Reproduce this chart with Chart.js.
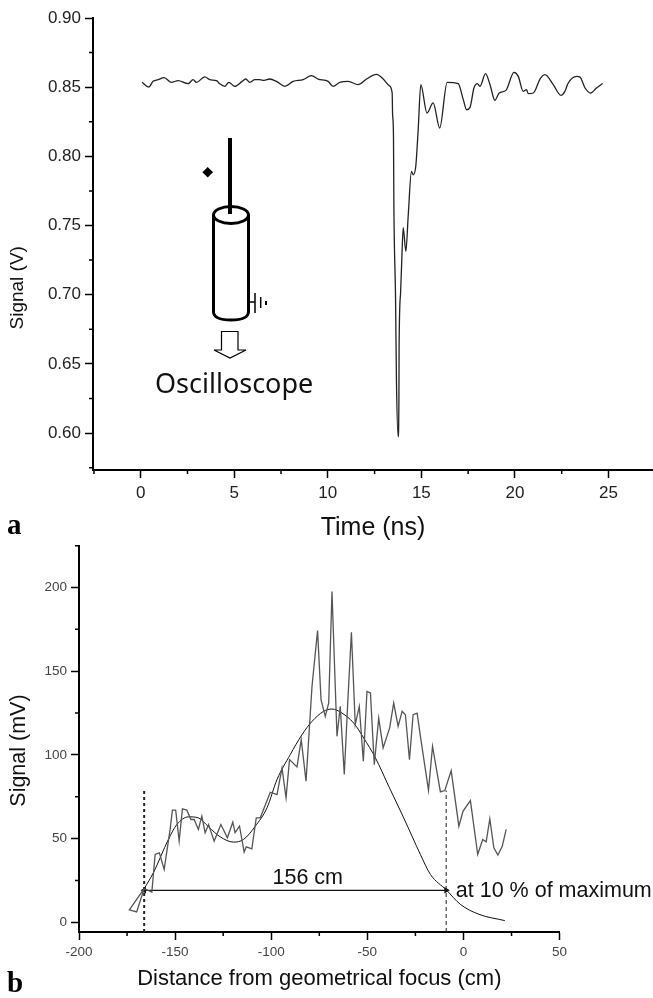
<!DOCTYPE html>
<html>
<head>
<meta charset="utf-8">
<style>
  html, body { margin: 0; padding: 0; background: #fff; }
  #page { position: relative; width: 653px; height: 998px; overflow: hidden; }
  canvas { position: absolute; left: 0; }
  #chartA { top: 0; }
  #chartB { top: 540px; }
  .panel { position: absolute; left: 7px; font: bold 29px "Liberation Serif", serif; color: #000; }
  #probe { position: absolute; left: 0; top: 0; }
  #scope { position: absolute; left: 155px; top: 364px; font: 27px "Noto Sans", sans-serif; color: #111; }
</style>
<script src="https://cdn.jsdelivr.net/npm/chart.js@4"></script>
</head>
<body>
<div id="page">
  <canvas id="chartA" width="653" height="540"></canvas>
  <canvas id="chartB" width="653" height="458"></canvas>
  <svg id="probe" width="653" height="400" fill="none" stroke="#000">
    <path d="M207.7 167 L213 172.3 L207.7 177.6 L202.4 172.3 Z" fill="#000" stroke="none"/>
    <line x1="230" y1="138" x2="230" y2="214" stroke-width="4"/>
    <ellipse cx="231" cy="215" rx="17.5" ry="8.5" stroke-width="3"/>
    <path d="M213.5 215 V312 Q214 320 231 320 Q248 320 248.5 312 V215" stroke-width="3"/>
    <path d="M248 302 H255 M255 293 V313 M260.7 297 V308" stroke-width="1.5"/>
    <path d="M266 301 V305" stroke-width="2"/>
    <path d="M221.5 331.5 H238 V350 H246 L230 358 L214 350 H221.5 Z" stroke-width="1.2"/>
  </svg>
  <div id="scope">Oscilloscope</div>
  <div class="panel" style="top:508px">a</div>
  <div class="panel" style="top:966px">b</div>
</div>
<script>
// panel a: detector signal
const timeNs = [0.07,0.43,0.66,0.93,1.25,1.64,2.0,2.53,2.8,2.98,3.42,3.69,4.05,4.22,4.49,4.71,5.03,5.42,5.61,5.83,6.1,6.36,6.59,6.9,7.25,7.7,8.15,8.68,9.13,9.48,10.02,10.28,10.64,11.09,11.62,12.07,12.6,12.96,13.28,13.44,13.46,13.51,13.53,13.62,13.67,13.76,13.8,13.81,13.89,13.96,14.03,14.17,14.3,14.47,14.56,14.7,14.83,14.97,15.3,15.63,15.98,16.38,16.97,17.24,17.42,17.6,17.81,17.99,18.13,18.43,18.67,18.93,19.16,19.52,19.95,20.18,20.44,20.62,20.71,20.98,21.37,21.6,22.05,22.46,22.67,22.85,23.3,23.48,23.75,24.05,24.36,24.69];
const signalV = [0.8535,0.8501,0.8542,0.8554,0.8569,0.8535,0.8547,0.8525,0.8554,0.8535,0.8574,0.8554,0.8547,0.8525,0.8506,0.8535,0.8506,0.8542,0.8559,0.8535,0.8554,0.8554,0.8549,0.8559,0.8542,0.8506,0.8542,0.8554,0.8583,0.8559,0.8542,0.8506,0.8535,0.8542,0.8518,0.8559,0.8593,0.8559,0.8511,0.8458,0.8313,0.8144,0.7663,0.6977,0.6363,0.5973,0.6241,0.6626,0.7014,0.7277,0.7484,0.7313,0.7578,0.7891,0.7867,0.7927,0.8193,0.8518,0.8313,0.8386,0.8205,0.8535,0.8526,0.841,0.8337,0.8354,0.8494,0.8526,0.8506,0.8598,0.8518,0.8405,0.8458,0.8477,0.8607,0.8578,0.847,0.8482,0.8453,0.8458,0.8566,0.859,0.8518,0.8441,0.847,0.853,0.8578,0.8573,0.8494,0.8458,0.8494,0.8526];
const minorTime = [-2.5,2.5,7.5,12.5,17.5,22.5];
const minorVolt = [0.575,0.625,0.675,0.725,0.775,0.825,0.875];

// panel b: measured signal and the fit
const distCm = [-166.1,-173.8,-170,-166.1,-162.1,-160.4,-158.2,-155.7,-152.6,-151.4,-149.7,-147.9,-146.2,-143.9,-141.8,-140.1,-137.9,-136.1,-134.4,-132.6,-129.7,-126.2,-122.8,-120,-118.8,-116.5,-114.1,-113,-110.1,-107.8,-105.7,-100.5,-97,-94.4,-92.3,-90.5,-86.6,-84.4,-81.9,-78.8,-75.9,-74.1,-71.9,-70.1,-68.4,-65.8,-64.1,-62,-60.3,-58.3,-56.3,-54.2,-52.1,-50.2,-48.4,-46.4,-44.1,-41.8,-38.4,-36.3,-34,-31.9,-30.2,-28.1,-26.2,-24.1,-22.4,-18.2,-16.1,-12,-9.7,-6.4,-2.4,-0.2,3.6,7.4,10,11.8,13.7,15.8,17.9,20.2,22.2];
const signalMv = [20.1,7.4,6.2,20.1,18.1,40.5,41.5,31.6,55.5,67,67,48.5,67.8,67,61.4,61.4,55.5,63.4,53.5,58.4,48.5,58.4,50.5,59.8,53.5,57.4,41.9,45.1,43.9,62.4,62.4,77.7,76.3,92.2,74.4,97.2,92.8,109.1,84.3,140.9,174.3,133,123,131,197.6,111.1,129,88.3,129,173.3,118.1,129,96.2,137.9,137,94.2,122,104.2,116.1,131,117.1,126,124,97.2,124,125,111.1,78.9,105.1,77.9,78.7,90.6,57.4,66.4,72.7,40.5,49.5,48.1,61.8,44.5,40.1,45.5,55.5];
const fitCm = [-166.1,-161.3,-153.5,-149.1,-143,-137.9,-132.6,-126.6,-119.6,-114.4,-108.3,-102.2,-97,-90.1,-84,-78.8,-72.8,-68.4,-63.2,-57.1,-51.9,-45.8,-38.9,-31.1,-22.4,-17.2,-8.9,-1.6,8,21.5];
const fitMv = [20.1,29.6,49.5,58.4,63,62.4,57,51.1,47.9,49.5,57.4,68.4,85.3,100.2,112.1,120,126,127.4,125,119,110.1,98.2,81.3,62.4,40.5,28.6,19.3,10.7,4.8,1];
const minorDist = [-175,-125,-75,-25,25];
const minorSignal = [25,75,125,175,225];
const widthCm = [-166.1,-9];
const widthMv = [19.1,19.1];
const markTopMv = [79.7,78.7];

function toPoints(xs, ys){
  return xs.map((x, i) => ({x: x, y: ys[i]}));
}

// Chart.js has no minor ticks, so short ones are added after the scales draw
function minorTicks(listX, listY, len){
  return {
    id: 'minorTicks',
    afterDraw(chart){
      const c = chart.ctx, sx = chart.scales.x, sy = chart.scales.y;
      c.save();
      c.strokeStyle = '#000';
      c.lineWidth = 1.5;
      c.beginPath();
      listX.forEach(v => {
        let p = sx.getPixelForValue(v);
        c.moveTo(p, sx.top);
        c.lineTo(p, sx.top + len);
      });
      listY.forEach(v => {
        let p = sy.getPixelForValue(v);
        c.moveTo(sy.right, p);
        c.lineTo(sy.right - len, p);
      });
      c.stroke();
      c.restore();
    }
  };
}

// the y titles sit well off the axis centre in the original, so no scale title here
function sideTitle(text, size, centre, x){
  return {
    id: 'sideTitle',
    afterDraw(chart){
      const c = chart.ctx;
      c.save();
      c.translate(x, chart.scales.y.getPixelForValue(centre));
      c.rotate(-Math.PI / 2);
      c.fillStyle = '#111';
      c.font = size + 'px "Liberation Sans", sans-serif';
      c.textAlign = 'center';
      c.textBaseline = 'middle';
      c.fillText(text, 0, 0);
      c.restore();
    }
  };
}

const widthLabels = {
  id: 'widthLabels',
  afterDraw(chart){
    const c = chart.ctx, sx = chart.scales.x, sy = chart.scales.y;
    c.save();
    c.fillStyle = '#111';
    c.font = '21.5px "Liberation Sans", sans-serif';
    c.textBaseline = 'alphabetic';
    c.textAlign = 'center';
    c.fillText('156 cm', sx.getPixelForValue(-81), sy.getPixelForValue(19.1) - 6);
    c.textAlign = 'left';
    c.fillText('at 10 % of maximum', sx.getPixelForValue(-4), sy.getPixelForValue(19.1) + 7);
    c.restore();
  }
};

function axis(opts){
  return {
    type: 'linear',
    min: opts.min,
    max: opts.max,
    afterFit(s){
      if (opts.width) s.width = opts.width;
      if (opts.height) s.height = opts.height;
      // stop the tick labels pushing the plot area in
      s.paddingTop = 0;
      s.paddingBottom = 0;
    },
    border: {color: '#000', width: 2},
    grid: {drawOnChartArea: false, color: '#000', tickLength: 8, tickWidth: 1.5},
    ticks: {
      stepSize: opts.step,
      includeBounds: false,
      autoSkip: false,
      maxRotation: 0,
      padding: opts.tickPad,
      color: opts.tickColor,
      font: {family: '"Liberation Sans", sans-serif', size: opts.tickSize},
      callback: opts.format
    },
    title: {
      display: !!opts.title,
      text: opts.title,
      color: '#111',
      font: {family: '"Liberation Sans", sans-serif', size: opts.titleSize},
      padding: opts.titlePad
    }
  };
}

new Chart(document.getElementById('chartA'), {
  type: 'scatter',
  data: {
    datasets: [{
      data: toPoints(timeNs, signalV),
      showLine: true,
      borderColor: '#222',
      borderWidth: 1.3,
      cubicInterpolationMode: 'monotone',
      pointRadius: 0
    }]
  },
  plugins: [minorTicks(minorTime, minorVolt, 4), sideTitle('Signal (V)', 19, 0.705, 18)],
  options: {
    responsive: false,
    animation: false,
    layout: {padding: {top: 18}},
    plugins: {legend: {display: false}, tooltip: {enabled: false}},
    scales: {
      x: axis({min: -2.55, max: 27.38, step: 5, height: 70, tickSize: 17, tickPad: 5, tickColor: '#222', title: 'Time (ns)', titleSize: 25, titlePad: {top: 4, bottom: -3}, format: v => v}),
      y: axis({min: 0.5733, max: 0.9, step: 0.05, width: 93, tickSize: 17, tickPad: 4, tickColor: '#222', format: v => v.toFixed(2)})
    }
  }
});

new Chart(document.getElementById('chartB'), {
  type: 'scatter',
  data: {
    datasets: [
      {
        data: toPoints(distCm, signalMv),
        showLine: true,
        borderColor: '#555',
        borderWidth: 1.3,
        pointRadius: 0
      },
      {
        data: toPoints(fitCm, fitMv),
        showLine: true,
        borderColor: '#111',
        borderWidth: 1,
        cubicInterpolationMode: 'monotone',
        pointRadius: 0
      },
      {
        data: toPoints([widthCm[0], widthCm[0]], [-5.8, markTopMv[0]]),
        showLine: true,
        borderColor: '#222',
        borderWidth: 2,
        borderDash: [3, 3],
        pointRadius: 0
      },
      {
        data: toPoints([widthCm[1], widthCm[1]], [-5.8, markTopMv[1]]),
        showLine: true,
        borderColor: '#222',
        borderWidth: 1,
        borderDash: [4, 3],
        pointRadius: 0
      },
      {
        data: toPoints(widthCm, widthMv),
        showLine: true,
        borderColor: '#111',
        borderWidth: 1.2,
        backgroundColor: '#111',
        pointStyle: 'triangle',
        pointRadius: 2.5,
        pointRotation: [-90, 90]
      }
    ]
  },
  plugins: [minorTicks(minorDist, minorSignal, 4), sideTitle('Signal (mV)', 21.5, 102.6, 19), widthLabels],
  options: {
    responsive: false,
    animation: false,
    layout: {padding: {top: 6, right: 93.4}},
    plugins: {legend: {display: false}, tooltip: {enabled: false}},
    scales: {
      x: axis({min: -200, max: 50, step: 50, height: 66, tickSize: 13.5, tickPad: 4, tickColor: '#444', title: 'Distance from geometrical focus (cm)', titleSize: 22, titlePad: {top: 4, bottom: 6}, format: v => v}),
      y: axis({min: -5.8, max: 224.8, step: 50, width: 79, tickSize: 13.5, tickPad: 4, tickColor: '#444', format: v => v})
    }
  }
});
</script>
</body>
</html>
